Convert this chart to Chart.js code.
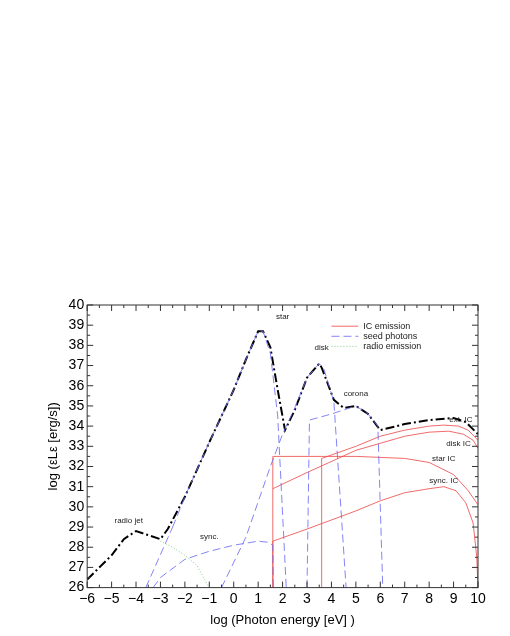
<!DOCTYPE html>
<html>
<head>
<meta charset="utf-8">
<script src="https://cdn.jsdelivr.net/npm/chart.js@4"></script>
<style>
  html, body { margin: 0; padding: 0; background: #fff; }
  #wrap { position: absolute; left: 0; top: 0; width: 510px; height: 636px; }
</style>
</head>
<body>
<div id="wrap"><canvas id="sed"></canvas></div>
<script>
// curves as [log E, log L] pairs
const totalEmission = [[-6,26.4],[-5,27.6],[-4.5,28.4],[-4,28.8],[-3.5,28.6],[-3,28.4],[-2.7,28.9],[-2,30.5],[-1,33.2],[0,35.8],[0.5,37.3],[1,38.7],[1.2,38.7],[1.5,37.9],[1.8,35.8],[2.1,33.8],[2.5,34.8],[3,36.4],[3.5,37.1],[3.6,36.9],[4.1,35.3],[4.5,34.9],[5,35.0],[5.5,34.6],[6,33.8],[7,34.1],[8,34.3],[9,34.4],[9.5,34.2],[10,33.6]];

const seedJet   = [[-3.6,26],[-2.5,29]];
const seedStar  = [[-2.5,29],[-2,30.5],[-1,33.2],[0,35.8],[0.5,37.3],[1,38.7],[1.2,38.7],[1.5,37.6],[1.8,34.5],[2.15,26]];
const seedSync  = [[-3.3,26],[-3,26.5],[-2,27.4],[-1,27.8],[0,28.1],[1,28.3],[1.4,28.25],[1.6,28.1],[1.62,26]];
const seedDisk  = [[-0.5,26],[0.5,28.5],[1.5,32],[2,33.6],[2.5,34.9],[3,36.4],[3.5,37.1],[3.7,36.8],[4.1,35.2],[4.6,26]];
const seedCorona = [[3,26],[3.1,34.3],[4,34.6],[5,35.0],[5.5,34.6],[5.9,34.0],[6.1,26]];

const icStar = [[1.6,26],[1.6,32.5],[5,32.5],[7,32.4],[8,32.2],[9,31.6],[9.6,30.8],[10,30.1]];
const icExt  = [[3.6,26],[3.6,32.4],[5,33.0],[6,33.5],[7,33.8],[8,34.0],[8.6,34.05],[9.2,34.0],[9.6,33.8],[10,33.3]];
const icDisk = [[1.6,30.9],[3,31.7],[5,32.8],[7,33.5],[8,33.7],[8.8,33.75],[9.4,33.6],[9.8,33.3],[10,32.9]];
const icSync = [[1.6,26],[1.6,28.3],[3,28.9],[5,29.8],[6,30.3],[7,30.7],[8,30.9],[8.6,31.0],[9.1,30.8],[9.5,30.2],[9.8,29.2],[9.95,27.5],[10,26]];

const radioEmission = [[-3,28.3],[-2.5,28.0],[-2,27.6],[-1.5,27.1],[-1.2,26.4],[-1,26]];

const xTicks = [-6,-5,-4,-3,-2,-1,0,1,2,3,4,5,6,7,8,9,10];

const curveLabels = [
  ['radio jet', -4.3, 29.3], ['sync.', -1.0, 28.5], ['star', 2.0, 39.4],
  ['disk', 3.6, 37.9], ['corona', 5.0, 35.6], ['ext. IC', 9.3, 34.3],
  ['disk IC', 9.2, 33.1], ['star IC', 8.6, 32.4], ['sync. IC', 8.6, 31.3]
];

const pts = a => a.map(p => ({ x: p[0], y: p[1] }));

const RED = 'rgba(240,80,80,0.85)';
const BLUE = 'rgba(110,110,245,0.85)';
const GREEN = 'rgba(120,200,120,0.9)';

function line(data, color, dash, width) {
  return { data: pts(data), showLine: true, borderColor: color, borderWidth: width || 1,
    borderDash: dash, pointRadius: 0, fill: false, tension: 0 };
}

const datasets = [
  line(seedJet, BLUE, [8, 4]), line(seedStar, BLUE, [8, 4]), line(seedSync, BLUE, [8, 4]),
  line(seedDisk, BLUE, [8, 4]), line(seedCorona, BLUE, [8, 4]),
  line(icStar, RED, []), line(icExt, RED, []), line(icDisk, RED, []), line(icSync, RED, []),
  line(radioEmission, GREEN, [1, 2]),
  line(totalEmission, '#000', [9, 3, 2, 3], 2)
];

const decorations = {
  id: 'decorations',
  afterDatasetsDraw(chart) {
    const { ctx, chartArea: a, scales: { x, y } } = chart;
    ctx.save();
    ctx.strokeStyle = '#333';
    ctx.lineWidth = 1;
    ctx.strokeRect(a.left, a.top, a.right - a.left, a.bottom - a.top);
    // minor ticks on all sides
    ctx.beginPath();
    for (let v = -6; v <= 10; v += 0.5) {
      const px = x.getPixelForValue(v), len = Number.isInteger(v) ? 6 : 3;
      ctx.moveTo(px, a.bottom); ctx.lineTo(px, a.bottom - len);
      ctx.moveTo(px, a.top); ctx.lineTo(px, a.top + len);
    }
    for (let v = 26; v <= 40; v += 0.5) {
      const py = y.getPixelForValue(v), len = Number.isInteger(v) ? 6 : 3;
      ctx.moveTo(a.left, py); ctx.lineTo(a.left + len, py);
      ctx.moveTo(a.right, py); ctx.lineTo(a.right - len, py);
    }
    ctx.stroke();

    ctx.fillStyle = '#222';
    ctx.font = '8px "Liberation Sans", Arial, sans-serif';
    ctx.textAlign = 'center';
    ctx.textBaseline = 'middle';
    curveLabels.forEach(([t, vx, vy]) => ctx.fillText(t, x.getPixelForValue(vx), y.getPixelForValue(vy)));

    // legend box in upper right
    const entries = [['IC emission', RED, []], ['seed photons', BLUE, [8, 4]], ['radio emission', GREEN, [1, 2]]];
    ctx.textAlign = 'left';
    ctx.font = '9px "Liberation Sans", Arial, sans-serif';
    entries.forEach(([t, c, d], i) => {
      const ly = y.getPixelForValue(38.95 - i * 0.5);
      ctx.strokeStyle = c; ctx.setLineDash(d);
      ctx.beginPath(); ctx.moveTo(x.getPixelForValue(4.0), ly); ctx.lineTo(x.getPixelForValue(5.1), ly); ctx.stroke();
      ctx.fillText(t, x.getPixelForValue(5.3), ly);
    });
    ctx.restore();
  }
};

new Chart(document.getElementById('sed'), {
  type: 'scatter',
  data: { datasets },
  options: {
    responsive: true,
    maintainAspectRatio: false,
    animation: false,
    layout: { padding: { top: 305, right: 32, bottom: 4, left: 42 } },
    plugins: { legend: { display: false }, tooltip: { enabled: false } },
    scales: {
      x: {
        type: 'linear', min: -6, max: 10,
        afterBuildTicks: s => { s.ticks = xTicks.map(v => ({ value: v })); },
        grid: { display: false, drawTicks: false },
        border: { display: false },
        ticks: { color: '#000', font: { size: 14, family: 'Liberation Sans' }, padding: 3,
          callback: v => String(v).replace('-', '\u2212') },
        title: { display: true, text: 'log (Photon energy [eV] )', color: '#000',
          font: { size: 13, family: 'Liberation Sans' }, padding: { top: 2 } }
      },
      y: {
        min: 26, max: 40,
        ticks: { stepSize: 1, color: '#000', font: { size: 14, family: 'Liberation Sans' }, padding: 3 },
        grid: { display: false, drawTicks: false },
        border: { display: false },
        title: { display: true, text: 'log (εLε [erg/s])', color: '#000',
          font: { size: 13, family: 'Liberation Sans' } }
      }
    }
  },
  plugins: [decorations]
});
</script>
</body>
</html>
